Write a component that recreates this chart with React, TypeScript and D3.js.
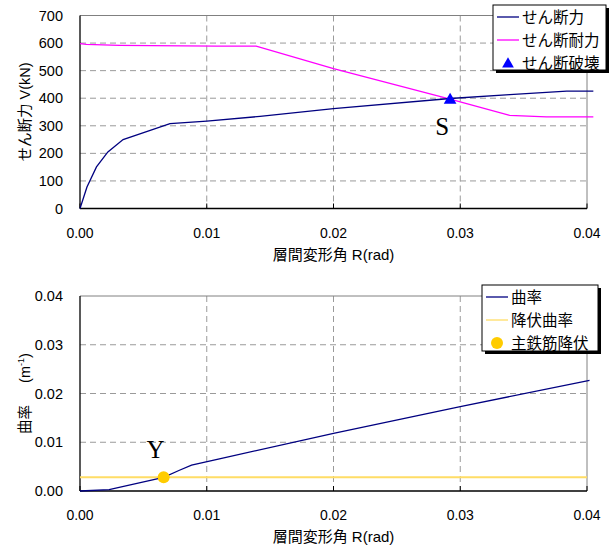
import React, { useRef, useEffect } from "react";
import * as d3 from "d3";

// 層間変形角 R(rad) vs せん断力 / せん断耐力
const shearR = [0, 0.00055, 0.0013, 0.0022, 0.0034, 0.0071, 0.01, 0.0142, 0.02, 0.0292, 0.0339, 0.0384, 0.0405];
const shearV = [0, 78, 151, 205, 250, 308, 317, 334, 362, 399, 413, 426, 426];
const strengthR = [0, 0.0005, 0.0031, 0.0108, 0.0139, 0.02, 0.0292, 0.0339, 0.0368, 0.0405];
const strengthV = [598, 595, 592, 589, 589, 507, 397, 338, 332, 332];
const failureR = [0.0292];
const failureV = [397];

// 曲率
const curvR = [0, 0.0023, 0.0066, 0.0078, 0.0088, 0.011, 0.02, 0.03, 0.0402];
const curvPhi = [0, 0.0003, 0.0028, 0.0042, 0.0053, 0.0066, 0.0118, 0.0173, 0.0227];
const yieldCurv = 0.0028;
const yieldR = [0.0066];
const yieldPhi = [0.0028];

const xTicks = [0, 0.01, 0.02, 0.03, 0.04];
const shearTicks = [0, 100, 200, 300, 400, 500, 600, 700];
const curvTicks = [0, 0.01, 0.02, 0.03, 0.04];

const SANS = '"Liberation Sans", Arial, "Noto Sans CJK JP", sans-serif';
const SERIF = '"Liberation Serif", "Times New Roman", serif';

const W = 611;
const H = 547;
const LEFT = 80;
const RIGHT = 587;

const drawFrame = (g, x, y, yTicks, yFmt, top, bottom) => {
  // grid
  g.selectAll(".gx")
    .data(xTicks.slice(1, -1))
    .enter()
    .append("line")
    .attr("x1", (d) => x(d))
    .attr("x2", (d) => x(d))
    .attr("y1", top)
    .attr("y2", bottom)
    .attr("stroke", "#9a9a9a")
    .attr("stroke-dasharray", "6,4");
  g.selectAll(".gy")
    .data(yTicks.slice(1, -1))
    .enter()
    .append("line")
    .attr("x1", LEFT)
    .attr("x2", RIGHT)
    .attr("y1", (d) => y(d))
    .attr("y2", (d) => y(d))
    .attr("stroke", "#9a9a9a")
    .attr("stroke-dasharray", "6,4");

  // frame
  g.append("line").attr("x1", LEFT).attr("x2", RIGHT).attr("y1", top).attr("y2", top).attr("stroke", "#808080");
  g.append("line").attr("x1", RIGHT).attr("x2", RIGHT).attr("y1", top).attr("y2", bottom).attr("stroke", "#808080");
  g.append("line").attr("x1", LEFT).attr("x2", LEFT).attr("y1", top).attr("y2", bottom).attr("stroke", "#000").attr("stroke-width", 1.3);
  g.append("line").attr("x1", LEFT).attr("x2", RIGHT).attr("y1", bottom).attr("y2", bottom).attr("stroke", "#000").attr("stroke-width", 1.3);

  // ticks (inside)
  g.selectAll(".tx")
    .data(xTicks)
    .enter()
    .append("line")
    .attr("x1", (d) => x(d))
    .attr("x2", (d) => x(d))
    .attr("y1", bottom)
    .attr("y2", bottom - 5)
    .attr("stroke", "#000");

  // tick labels
  g.selectAll(".lx")
    .data(xTicks)
    .enter()
    .append("text")
    .attr("x", (d) => x(d))
    .attr("y", bottom + 29)
    .attr("text-anchor", "middle")
    .style("font-family", SANS)
    .style("font-size", "14px")
    .text((d) => d3.format(".2f")(d));
  g.selectAll(".ly")
    .data(yTicks)
    .enter()
    .append("text")
    .attr("x", 63)
    .attr("y", (d) => y(d) + 5)
    .attr("text-anchor", "end")
    .style("font-family", SANS)
    .style("font-size", "14.5px")
    .text((d) => yFmt(d));

  g.append("text")
    .attr("x", (LEFT + RIGHT) / 2)
    .attr("y", bottom + 51)
    .attr("text-anchor", "middle")
    .style("font-family", SANS)
    .style("font-size", "15px")
    .text("層間変形角 R(rad)");
};

const drawLegend = (g, x0, y0, w, h, items) => {
  g.append("rect").attr("x", x0 + 3).attr("y", y0 + 3).attr("width", w).attr("height", h).attr("fill", "#000");
  g.append("rect").attr("x", x0).attr("y", y0).attr("width", w).attr("height", h).attr("fill", "#fff").attr("stroke", "#000");
  items.forEach((it, i) => {
    const cy = y0 + 12 + i * 23;
    if (it.type === "line") {
      g.append("line").attr("x1", x0 + 4).attr("x2", x0 + 26).attr("y1", cy).attr("y2", cy).attr("stroke", it.color).attr("stroke-width", 1.3);
    } else if (it.type === "tri") {
      g.append("path").attr("d", d3.symbol(d3.symbolTriangle, 60)()).attr("transform", `translate(${x0 + 15},${cy + 1})`).attr("fill", it.color);
    } else {
      g.append("circle").attr("cx", x0 + 15).attr("cy", cy).attr("r", 6).attr("fill", it.color);
    }
    g.append("text")
      .attr("x", x0 + 29)
      .attr("y", cy + 5.5)
      .style("font-family", SANS)
      .style("font-size", "15.5px")
      .text(it.label);
  });
};

const App = () => {
  const ref = useRef(null);

  useEffect(() => {
    const svg = d3.select(ref.current);
    svg.selectAll("*").remove();

    const x = d3.scaleLinear().domain([0, 0.04]).range([LEFT, RIGHT]);

    // ---- top: せん断力 ----
    const topT = 15.5;
    const topB = 208.5;
    const yV = d3.scaleLinear().domain([0, 700]).range([topB, topT]);
    const g1 = svg.append("g");
    drawFrame(g1, x, yV, shearTicks, (d) => d, topT, topB);

    const line1 = d3.line().x((d) => x(d[0])).y((d) => yV(d[1]));
    g1.append("path").datum(d3.zip(strengthR, strengthV)).attr("d", line1).attr("fill", "none").attr("stroke", "#ff00ff").attr("stroke-width", 1.3);
    g1.append("path").datum(d3.zip(shearR, shearV)).attr("d", line1).attr("fill", "none").attr("stroke", "#000080").attr("stroke-width", 1.3);
    g1.selectAll(".fail")
      .data(d3.zip(failureR, failureV))
      .enter()
      .append("path")
      .attr("d", d3.symbol(d3.symbolTriangle, 70)())
      .attr("transform", (d) => `translate(${x(d[0])},${yV(d[1]) + 1})`)
      .attr("fill", "#0000ff");
    g1.append("text")
      .attr("x", x(failureR[0]) - 8)
      .attr("y", yV(failureV[0]) + 36)
      .attr("text-anchor", "middle")
      .style("font-family", SERIF)
      .style("font-size", "25px")
      .text("S");

    g1.append("text")
      .attr("transform", `translate(30,${(topT + topB) / 2}) rotate(-90)`)
      .attr("text-anchor", "middle")
      .style("font-family", SANS)
      .style("font-size", "14.5px")
      .text("せん断力 V(kN)");

    drawLegend(g1, 493, 5, 113, 65, [
      { type: "line", color: "#000080", label: "せん断力" },
      { type: "line", color: "#ff00ff", label: "せん断耐力" },
      { type: "tri", color: "#0000ff", label: "せん断破壊" },
    ]);

    // ---- bottom: 曲率 ----
    const botT = 296;
    const botB = 491;
    const yC = d3.scaleLinear().domain([0, 0.04]).range([botB, botT]);
    const g2 = svg.append("g");
    drawFrame(g2, x, yC, curvTicks, d3.format(".2f"), botT, botB);

    g2.append("line")
      .attr("x1", x(0))
      .attr("x2", x(0.04))
      .attr("y1", yC(yieldCurv))
      .attr("y2", yC(yieldCurv))
      .attr("stroke", "#ffdd66")
      .attr("stroke-width", 2);
    const line2 = d3.line().x((d) => x(d[0])).y((d) => yC(d[1]));
    g2.append("path").datum(d3.zip(curvR, curvPhi)).attr("d", line2).attr("fill", "none").attr("stroke", "#000080").attr("stroke-width", 1.3);
    g2.selectAll(".yld")
      .data(d3.zip(yieldR, yieldPhi))
      .enter()
      .append("circle")
      .attr("cx", (d) => x(d[0]))
      .attr("cy", (d) => yC(d[1]))
      .attr("r", 6)
      .attr("fill", "#ffcc00");
    g2.append("text")
      .attr("x", x(yieldR[0]) - 8)
      .attr("y", yC(yieldPhi[0]) - 19)
      .attr("text-anchor", "middle")
      .style("font-family", SERIF)
      .style("font-size", "25px")
      .text("Y");

    const yt = g2
      .append("text")
      .attr("transform", `translate(30,${(botT + botB) / 2}) rotate(-90)`)
      .attr("text-anchor", "middle")
      .style("font-family", SANS)
      .style("font-size", "14.5px");
    yt.append("tspan").text("曲率");
    yt.append("tspan").attr("dx", 22).text("(m");
    yt.append("tspan").attr("dy", -6).style("font-size", "9px").text("-1");
    yt.append("tspan").attr("dy", 6).text(")");

    drawLegend(g2, 482, 285, 116, 66, [
      { type: "line", color: "#000080", label: "曲率" },
      { type: "line", color: "#ffdd66", label: "降伏曲率" },
      { type: "circle", color: "#ffcc00", label: "主鉄筋降伏" },
    ]);
  }, []);

  return (
    <svg
      ref={ref}
      width={W}
      height={H}
      style={{ position: "absolute", left: 0, top: 0, background: "#fff" }}
    />
  );
};

export default App;
